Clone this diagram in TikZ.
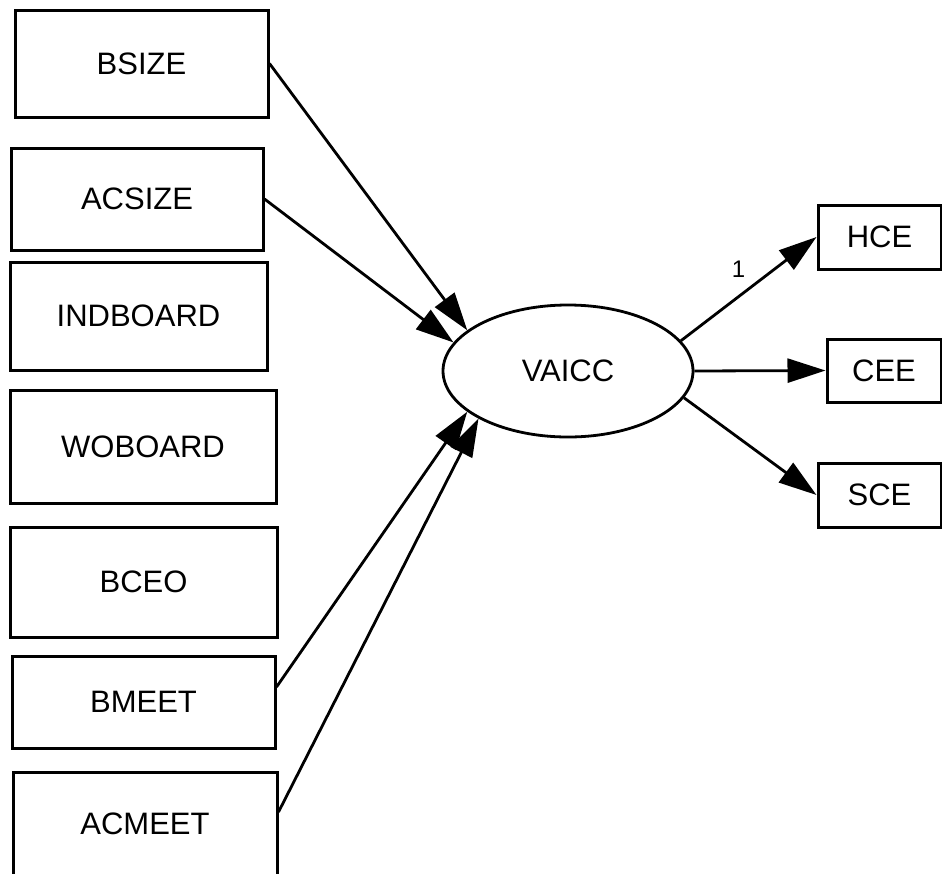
\documentclass[tikz,border=0pt]{standalone}
\usepackage{fontspec}
\setmainfont{Liberation Sans}
\usetikzlibrary{arrows.meta,shapes.geometric,calc}
\begin{document}
\begin{tikzpicture}[x=1pt,y=-1pt,
  box/.style={draw, line width=3pt, rectangle, inner sep=0pt, font=\fontsize{31}{37}\selectfont},
  lat/.style={draw, line width=2.8pt, ellipse, inner sep=0pt, minimum width=250pt, minimum height=132pt, font=\fontsize{31}{37}\selectfont},
  conn/.style={line width=2.8pt, -{Triangle[length=38pt,width=24pt]}}
]
\fill[white] (0,0) rectangle (942,873);
\clip (0,0) rectangle (942,873);
% left observed variables
\node[box, minimum width=253pt, minimum height=107pt] (bsize)   at (141.5,63.5) {BSIZE};
\node[box, minimum width=252pt, minimum height=102pt] (acsize)  at (137,199)    {ACSIZE};
\node[box, minimum width=257pt, minimum height=108pt] (indboard) at (138.5,316) {INDBOARD};
\node[box, minimum width=266pt, minimum height=113pt] (woboard) at (143,446.5)  {WOBOARD};
\node[box, minimum width=267pt, minimum height=110pt] (bceo)    at (143.5,582)  {BCEO};
\node[box, minimum width=263pt, minimum height=92pt]  (bmeet)   at (143.5,702)  {BMEET};
\node[box, minimum width=264pt, minimum height=104pt] (acmeet)  at (145,824)    {ACMEET};
% latent
\node[lat] (vaicc) at (568,371) {VAICC};
% right indicators
\node[box, minimum width=123pt, minimum height=64pt] (hce) at (879.5,237) {HCE};
\node[box, minimum width=114pt, minimum height=63pt] (cee) at (884,370.5) {CEE};
\node[box, minimum width=123pt, minimum height=64pt] (sce) at (879.5,495) {SCE};
% paths
\draw[conn] (bsize.east) -- (vaicc.158.8);
\draw[conn] (acsize.east) -- (vaicc.166.2);
\draw[conn] ($(bmeet.east)+(0,-15)$) -- (vaicc.202.1);
\draw[conn] ($(acmeet.east)+(0,-12)$) -- (vaicc.208.1);
\draw[conn] (vaicc.15.1) -- (hce.west);
\draw[conn] (vaicc.0) -- (cee.west);
\draw[conn] (vaicc.347.7) -- (sce.west);
\node[font=\fontsize{24}{28}\selectfont] (one) at (738.5,269) {1};
\end{tikzpicture}
\end{document}
